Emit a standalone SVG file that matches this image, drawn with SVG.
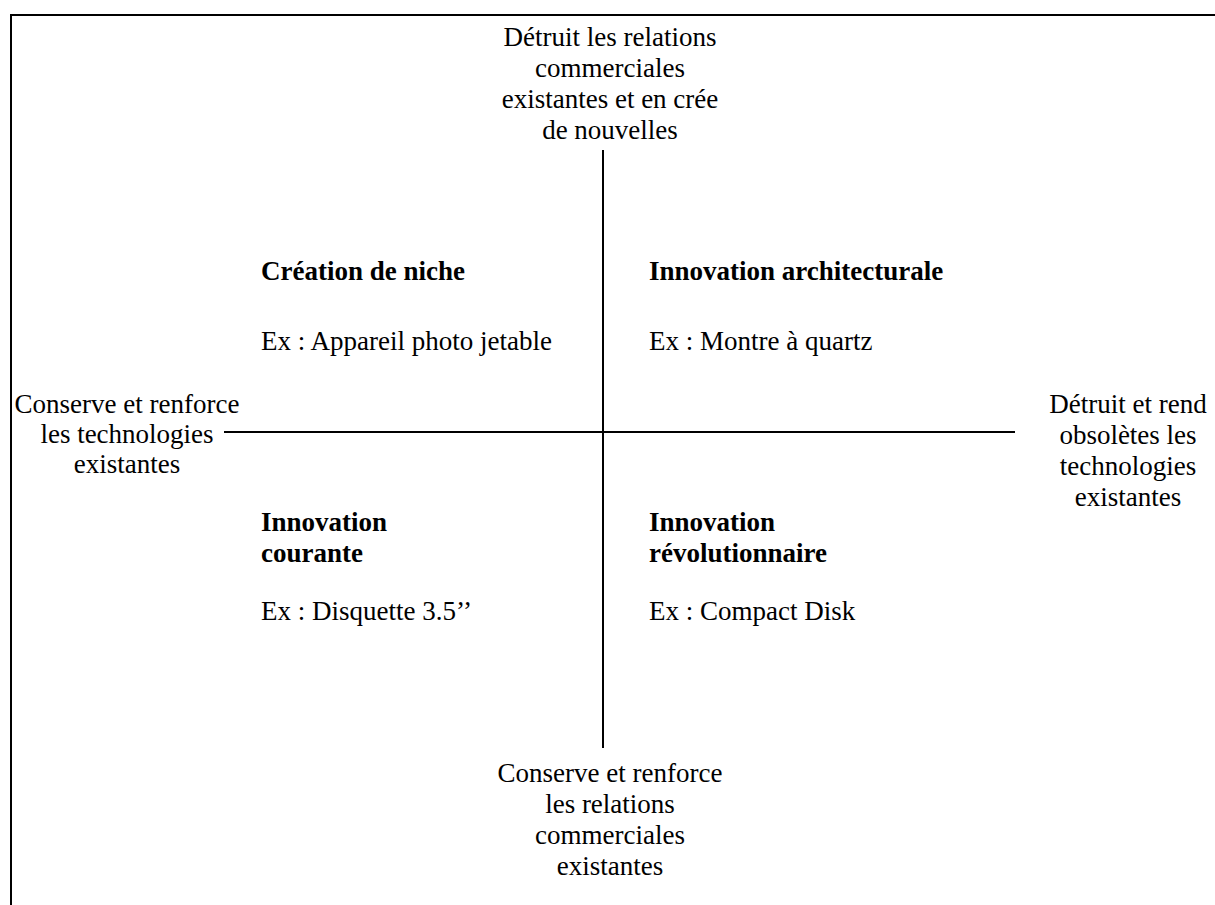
<svg xmlns="http://www.w3.org/2000/svg" width="1215" height="905" viewBox="0 0 1215 905">
<style>
.t{font-family:"Liberation Serif","Times New Roman",serif;font-size:27px;fill:#000}
.c{text-anchor:middle}
.b{font-weight:bold}
.ln{stroke:#000;stroke-width:2;fill:none}
</style>
<rect x="0" y="0" width="1215" height="905" fill="#fff"/>
<g id="frame">
<path class="ln" d="M10,15 H1215 M11,14 V905"/>
</g>
<g id="connectors">
<line class="ln" x1="603" y1="150" x2="603" y2="748"/>
<line class="ln" x1="224" y1="432" x2="1015" y2="432"/>
</g>
<g id="top-label">
<text class="t c" x="610" y="46">Détruit les relations</text>
<text class="t c" x="610" y="77">commerciales</text>
<text class="t c" x="610" y="108">existantes et en crée</text>
<text class="t c" x="610" y="139">de nouvelles</text>
</g>
<g id="left-label">
<text class="t c" x="127" y="413">Conserve et renforce</text>
<text class="t c" x="127" y="443">les technologies</text>
<text class="t c" x="127" y="473">existantes</text>
</g>
<g id="right-label">
<text class="t c" x="1128" y="413">Détruit et rend</text>
<text class="t c" x="1128" y="444">obsolètes les</text>
<text class="t c" x="1128" y="475">technologies</text>
<text class="t c" x="1128" y="506">existantes</text>
</g>
<g id="bottom-label">
<text class="t c" x="610" y="782">Conserve et renforce</text>
<text class="t c" x="610" y="813">les relations</text>
<text class="t c" x="610" y="844">commerciales</text>
<text class="t c" x="610" y="875">existantes</text>
</g>
<g id="q-niche">
<text class="t b" x="261" y="280">Création de niche</text>
<text class="t" x="261" y="350">Ex : Appareil photo jetable</text>
</g>
<g id="q-architecturale">
<text class="t b" x="649" y="280">Innovation architecturale</text>
<text class="t" x="649" y="350">Ex : Montre à quartz</text>
</g>
<g id="q-courante">
<text class="t b" x="261" y="531">Innovation</text>
<text class="t b" x="261" y="562">courante</text>
<text class="t" x="261" y="620">Ex : Disquette 3.5’’</text>
</g>
<g id="q-revolutionnaire">
<text class="t b" x="649" y="531">Innovation</text>
<text class="t b" x="649" y="562">révolutionnaire</text>
<text class="t" x="649" y="620">Ex : Compact Disk</text>
</g>
</svg>
